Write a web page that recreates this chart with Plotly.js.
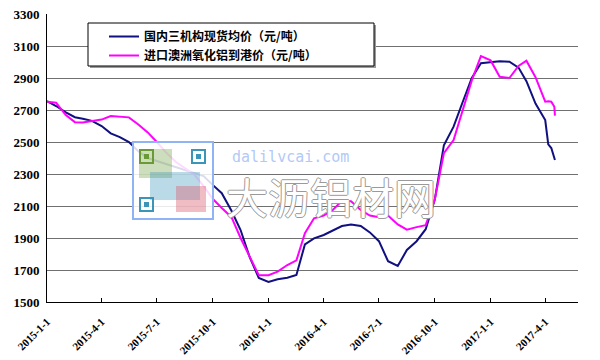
<!DOCTYPE html>
<html>
<head>
<meta charset="utf-8">
<script src="https://cdn.plot.ly/plotly-3.0.1.min.js"></script>
<style>html,body{margin:0;padding:0;background:#fff;}#chart{width:600px;height:360px;}</style>
</head>
<body>
<div id="chart"></div>
<script>
// ---- data ----
const dates = [
 "2015-01-01","2015-01-16","2015-02-01","2015-02-16","2015-03-01","2015-03-16",
 "2015-04-01","2015-04-16","2015-05-01","2015-05-16","2015-06-01","2015-06-16",
 "2015-07-01","2015-07-16","2015-08-01","2015-08-16","2015-09-01","2015-09-16",
 "2015-10-01","2015-10-16","2015-11-01","2015-11-16","2015-12-01","2015-12-16",
 "2016-01-01","2016-01-16","2016-02-01","2016-02-16","2016-03-01","2016-03-16",
 "2016-04-01","2016-04-16","2016-05-01","2016-05-16","2016-06-01","2016-06-16",
 "2016-07-01","2016-07-16","2016-08-01","2016-08-16","2016-09-01","2016-09-16",
 "2016-10-01","2016-10-16","2016-11-01","2016-11-16","2016-12-01","2016-12-16",
 "2017-01-01","2017-01-16","2017-02-01","2017-02-16","2017-03-01","2017-03-16",
 "2017-04-01","2017-04-06","2017-04-11","2017-04-16","2017-04-17"
];
const domesticPrice = [
 2755,2725,2685,2655,2645,2632,
 2600,2554,2531,2500,2440,2400,
 2381,2363,2343,2325,2305,2287,
 2232,2180,2070,1950,1780,1650,
 1625,1642,1652,1669,1860,1898,
 1919,1948,1975,1985,1975,1935,
 1880,1755,1725,1825,1880,1955,
 2140,2480,2596,2750,2900,2992,
 2998,3005,3002,2965,2880,2740,
 2637,2485,2462,2410,2387
];
const importPrice = [
 2752,2745,2668,2624,2622,2630,
 2640,2662,2660,2654,2608,2560,
 2500,2435,2376,2338,2295,2225,
 2145,2088,2030,1900,1780,1667,
 1667,1690,1731,1760,1930,2023,
 2040,2075,2133,2130,2075,2040,
 2030,2040,1985,1952,1968,1980,
 2140,2430,2512,2700,2885,3037,
 3010,2908,2900,2975,3008,2905,
 2752,2755,2752,2720,2665
];
const seriesNames = ["国内三机构现货均价（元/吨）","进口澳洲氧化铝到港价（元/吨）"];
const tickDates = ["2015-01-01","2015-04-01","2015-07-01","2015-10-01","2016-01-01","2016-04-01","2016-07-01","2016-10-01","2017-01-01","2017-04-01"];
const tickLabels = ["2015-1-1","2015-4-1","2015-7-1","2015-10-1","2016-1-1","2016-4-1","2016-7-1","2016-10-1","2017-1-1","2017-4-1"];

// ---- layout helpers (pixel -> paper) ----
const L = 47, R = 578, T = 14, B = 302;
const px = v => (v - L) / (R - L);
const py = v => (B - v) / (B - T);
function rect(x0, y0, x1, y1, opts) {
  return Object.assign({type:"rect", xref:"paper", yref:"paper",
    x0:px(x0), x1:px(x1), y0:py(y1), y1:py(y0), layer:"above"}, opts);
}

const shapes = [];
// legend box with shadow
shapes.push(rect(90, 25, 376, 68, {fillcolor:"#9a9a9a", line:{width:0}}));
shapes.push(rect(88, 23, 374, 66, {fillcolor:"#ffffff", line:{color:"#000", width:1}}));
// watermark QR-like badge
shapes.push(rect(133, 142, 213, 219, {fillcolor:"rgba(255,255,255,0.85)", line:{color:"#8fb3f5", width:2}}));
shapes.push(rect(139, 149, 172, 178, {fillcolor:"rgba(110,160,60,0.35)", line:{width:0}}));
shapes.push(rect(150, 172, 200, 200, {fillcolor:"rgba(60,150,190,0.35)", line:{width:0}}));
shapes.push(rect(176, 186, 206, 212, {fillcolor:"rgba(220,90,110,0.40)", line:{width:0}}));
[[140,150,"#6a9a35"],[192,150,"#3a95b8"],[140,198,"#3a95b8"]].forEach(([x,y,c])=>{
  shapes.push(rect(x, y, x+13, y+13, {fillcolor:"rgba(0,0,0,0)", line:{color:c, width:2}}));
  shapes.push(rect(x+4, y+4, x+9, y+9, {fillcolor:c, line:{width:0}}));
});

const annotations = [
  {xref:"paper", yref:"paper", x:px(290), y:py(157), text:"dalilvcai.com", showarrow:false,
   font:{family:"DejaVu Sans Mono", size:15, color:"#b3c9f7"}},
  {xref:"paper", yref:"paper", x:px(331), y:py(195), text:"大沥铝材网", showarrow:false,
   font:{family:"Noto Sans CJK SC", size:42, color:"#ffffff",
         shadow:"1px 0 0 #9a9a9a, -1px 0 0 #9a9a9a, 0 1px 0 #9a9a9a, 0 -1px 0 #9a9a9a"}}
];

const traces = [
  {x:dates, y:domesticPrice, name:seriesNames[0], type:"scatter", mode:"lines",
   line:{color:"#101080", width:2}},
  {x:dates, y:importPrice, name:seriesNames[1], type:"scatter", mode:"lines",
   line:{color:"#ff00ff", width:2}}
];

const layout = {
  width:600, height:360, autosize:false,
  margin:{l:L, r:600-R, t:T, b:360-B, pad:0},
  paper_bgcolor:"#fff", plot_bgcolor:"#fff",
  showlegend:true,
  legend:{x:px(104), y:py(22), xanchor:"left", yanchor:"top", bgcolor:"rgba(0,0,0,0)",
    borderwidth:0, font:{family:"Noto Sans CJK SC", size:12, color:"#000", weight:"bold"}},
  xaxis:{type:"date", range:["2015-01-01","2017-05-25"], tickvals:tickDates, ticktext:tickLabels,
    tickangle:-45, ticks:"inside", ticklen:4, tickcolor:"#000", showgrid:false,
    showline:true, linecolor:"#000", linewidth:1, zeroline:false, ticklabelstandoff:8,
    tickfont:{family:"Liberation Serif", size:11, color:"#000", weight:"bold"}},
  yaxis:{range:[1500,3300], dtick:200, tick0:1500, showgrid:true, gridcolor:"#707070", gridwidth:1,
    showline:true, linecolor:"#000", linewidth:1, zeroline:false, ticks:"", ticklabelstandoff:4,
    tickfont:{family:"Liberation Serif", size:13, color:"#000", weight:"bold"}},
  shapes:shapes, annotations:annotations
};

Plotly.newPlot("chart", traces, layout, {staticPlot:true, displayModeBar:false});
</script>
</body>
</html>
